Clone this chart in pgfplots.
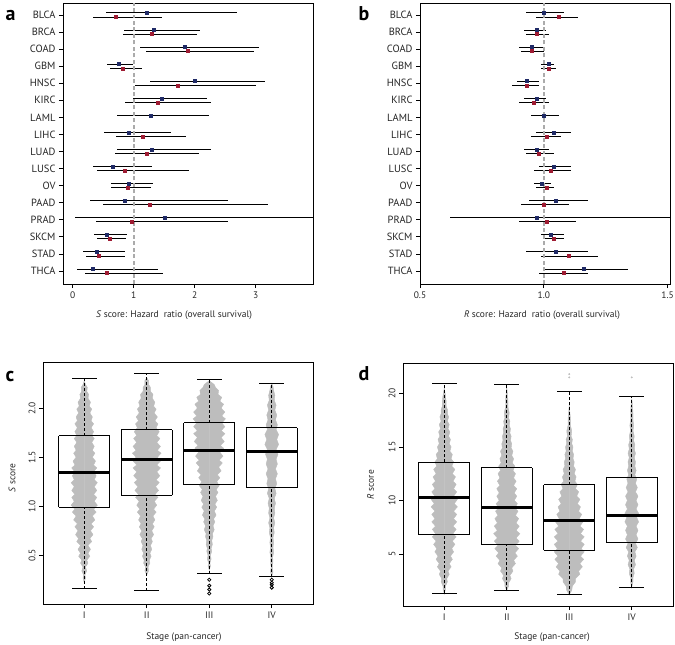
\documentclass[border=0pt]{standalone}
\usepackage{pgfplots}
\pgfplotsset{compat=1.18}
\usepackage{pgfplotstable}
\usepackage{fontspec}
\setmainfont{PT Sans}
\definecolor{navy}{HTML}{1F2A66}
\definecolor{dred}{HTML}{9E1B32}
\definecolor{swarm}{HTML}{BDBDBD}
\definecolor{refgray}{HTML}{ABABAB}

% forest plot data: p = position (BLCA=16 ... THCA=1), v = HR, lo/hi = CI
\pgfplotstableread{
p v lo hi
16 1.22 0.55 2.70
15 1.32 0.84 2.08
14 1.84 1.11 3.06
13 0.75 0.56 0.98
12 2.00 1.27 3.15
11 1.46 0.98 2.20
10 1.28 0.73 2.23
9 0.91 0.52 1.61
8 1.29 0.73 2.27
7 0.66 0.34 1.30
6 0.91 0.63 1.31
5 0.85 0.29 2.54
4 1.51 0.03 4.50
3 0.56 0.35 0.89
2 0.39 0.17 0.85
1 0.32 0.07 1.39
}\aBlue
\pgfplotstableread{
p v lo hi
16 0.70 0.33 1.46
15 1.30 0.82 2.03
14 1.89 1.20 2.97
13 0.82 0.61 1.13
12 1.72 1.02 3.01
11 1.40 0.86 2.27
9 1.14 0.71 1.85
8 1.21 0.69 2.07
7 0.86 0.39 1.90
6 0.90 0.63 1.28
5 1.26 0.50 3.20
4 0.97 0.38 2.54
3 0.60 0.40 0.88
2 0.43 0.22 0.86
1 0.55 0.20 1.48
}\aRed
\pgfplotstableread{
p v lo hi
16 1.00 0.93 1.08
15 0.97 0.92 1.01
14 0.95 0.90 1.00
13 1.02 0.99 1.04
12 0.93 0.89 0.98
11 0.97 0.92 1.01
10 1.00 0.95 1.06
9 1.04 0.97 1.11
8 0.97 0.92 1.02
7 1.04 0.98 1.11
6 0.99 0.96 1.03
5 1.05 0.94 1.18
4 0.97 0.62 1.60
3 1.03 0.99 1.08
2 1.05 0.93 1.18
1 1.16 1.00 1.34
}\bBlue
\pgfplotstableread{
p v lo hi
16 1.06 0.97 1.14
15 0.97 0.93 1.02
14 0.95 0.91 1.00
13 1.02 0.99 1.05
12 0.93 0.87 0.98
11 0.96 0.90 1.02
9 1.01 0.95 1.07
8 0.98 0.93 1.04
7 1.03 0.96 1.11
6 1.01 0.97 1.04
5 1.00 0.91 1.10
4 1.01 0.90 1.13
3 1.04 1.00 1.08
2 1.10 0.99 1.22
1 1.08 0.98 1.18
}\bRed

% box summaries
\pgfplotstableread{
pos q1 med q3 lw uw
1 0.99 1.34 1.72 0.16 2.30
2 1.11 1.48 1.78 0.14 2.35
3 1.22 1.57 1.85 0.31 2.29
4 1.19 1.56 1.80 0.28 2.25
}\cBox
\pgfplotstableread{
pos q1 med q3 lw uw
1 6.78 10.24 13.55 1.32 20.94
2 5.87 9.37 13.05 1.60 20.84
3 5.34 8.09 11.46 1.26 20.22
4 6.06 8.56 12.17 1.91 19.69
}\dBox

% swarm outlines (y, half width) for panel c
\pgfplotstableread{
y w
0.22 0.00
0.27 0.02
0.30 0.01
0.34 0.04
0.38 0.02
0.42 0.06
0.45 0.04
0.49 0.09
0.52 0.06
0.56 0.10
0.60 0.06
0.64 0.12
0.67 0.09
0.71 0.14
0.75 0.10
0.79 0.15
0.82 0.11
0.86 0.17
0.90 0.13
0.94 0.19
0.97 0.15
1.01 0.21
1.05 0.16
1.09 0.20
1.12 0.15
1.16 0.20
1.20 0.16
1.24 0.21
1.27 0.16
1.31 0.19
1.35 0.15
1.39 0.20
1.42 0.15
1.46 0.18
1.50 0.13
1.54 0.17
1.57 0.13
1.61 0.16
1.65 0.12
1.69 0.16
1.72 0.12
1.76 0.15
1.80 0.11
1.84 0.15
1.87 0.11
1.91 0.13
1.95 0.09
1.99 0.12
2.02 0.08
2.06 0.10
2.10 0.06
2.14 0.07
2.17 0.04
2.21 0.05
2.24 0.02
2.28 0.00
}\cI
\pgfplotstableread{
y w
0.30 0.00
0.34 0.03
0.38 0.02
0.42 0.05
0.45 0.04
0.49 0.07
0.52 0.05
0.56 0.08
0.60 0.06
0.64 0.09
0.67 0.07
0.71 0.11
0.75 0.08
0.79 0.12
0.82 0.09
0.86 0.13
0.90 0.10
0.94 0.15
0.97 0.11
1.01 0.16
1.05 0.12
1.09 0.18
1.12 0.13
1.16 0.19
1.20 0.14
1.24 0.20
1.27 0.15
1.31 0.21
1.35 0.16
1.39 0.22
1.42 0.16
1.46 0.22
1.50 0.17
1.54 0.23
1.57 0.17
1.61 0.22
1.65 0.16
1.69 0.21
1.72 0.16
1.76 0.20
1.80 0.15
1.84 0.18
1.87 0.13
1.91 0.17
1.95 0.12
1.99 0.15
2.02 0.11
2.06 0.13
2.10 0.09
2.14 0.10
2.17 0.06
2.21 0.06
2.24 0.03
2.28 0.03
2.31 0.00
}\cII
\pgfplotstableread{
y w
0.35 0.00
0.39 0.02
0.42 0.01
0.46 0.03
0.50 0.02
0.54 0.04
0.57 0.03
0.61 0.05
0.65 0.04
0.69 0.06
0.72 0.05
0.76 0.08
0.80 0.06
0.84 0.09
0.87 0.07
0.91 0.11
0.95 0.08
0.99 0.12
1.02 0.09
1.06 0.13
1.10 0.10
1.14 0.14
1.17 0.11
1.21 0.16
1.25 0.12
1.29 0.17
1.32 0.13
1.36 0.19
1.40 0.15
1.44 0.21
1.47 0.16
1.51 0.22
1.55 0.17
1.59 0.23
1.62 0.18
1.66 0.24
1.70 0.19
1.74 0.25
1.77 0.19
1.81 0.25
1.85 0.20
1.89 0.26
1.92 0.20
1.96 0.25
2.00 0.19
2.04 0.23
2.07 0.17
2.11 0.20
2.14 0.14
2.18 0.15
2.21 0.10
2.24 0.08
2.26 0.04
2.28 0.00
}\cIII
\pgfplotstableread{
y w
0.28 0.00
0.33 0.02
0.38 0.01
0.43 0.02
0.48 0.015
0.53 0.03
0.58 0.02
0.63 0.03
0.68 0.02
0.73 0.04
0.78 0.03
0.83 0.05
0.88 0.03
0.93 0.05
0.98 0.04
1.03 0.06
1.08 0.04
1.13 0.07
1.18 0.05
1.23 0.08
1.28 0.06
1.33 0.09
1.38 0.06
1.43 0.09
1.48 0.07
1.53 0.10
1.58 0.07
1.63 0.11
1.68 0.08
1.73 0.11
1.78 0.07
1.83 0.09
1.88 0.06
1.93 0.08
1.98 0.05
2.03 0.07
2.08 0.04
2.13 0.05
2.18 0.03
2.22 0.02
2.25 0.00
}\cIV
% swarm outlines for panel d
\pgfplotstableread{
y w
1.3 0.00
1.7 0.02
2.0 0.02
2.4 0.05
2.7 0.04
3.1 0.08
3.4 0.06
3.8 0.11
4.1 0.08
4.5 0.13
4.8 0.10
5.2 0.15
5.5 0.12
5.9 0.17
6.2 0.13
6.6 0.19
6.9 0.14
7.3 0.19
7.6 0.14
8.0 0.20
8.3 0.15
8.7 0.20
9.0 0.15
9.4 0.21
9.7 0.16
10.1 0.21
10.4 0.15
10.8 0.20
11.1 0.15
11.5 0.19
11.8 0.14
12.2 0.18
12.5 0.13
12.9 0.17
13.2 0.12
13.6 0.15
13.9 0.11
14.3 0.13
14.6 0.09
15.0 0.11
15.3 0.08
15.7 0.10
16.0 0.07
16.4 0.09
16.7 0.06
17.1 0.08
17.4 0.05
17.8 0.07
18.1 0.05
18.5 0.05
18.8 0.03
19.3 0.03
19.8 0.02
20.5 0.00
}\dI
\pgfplotstableread{
y w
1.6 0.00
2.0 0.03
2.3 0.03
2.7 0.07
3.0 0.05
3.4 0.10
3.7 0.08
4.1 0.14
4.4 0.11
4.8 0.17
5.1 0.13
5.5 0.19
5.8 0.14
6.2 0.20
6.5 0.15
6.9 0.21
7.2 0.15
7.6 0.20
7.9 0.15
8.3 0.19
8.6 0.14
9.0 0.18
9.3 0.13
9.7 0.17
10.0 0.12
10.4 0.16
10.7 0.12
11.1 0.16
11.4 0.11
11.8 0.15
12.1 0.11
12.5 0.14
12.8 0.10
13.2 0.13
13.5 0.09
13.9 0.11
14.2 0.08
14.6 0.10
14.9 0.07
15.3 0.08
15.6 0.06
16.0 0.07
16.3 0.05
16.7 0.06
17.0 0.04
17.4 0.05
17.7 0.03
18.2 0.04
18.7 0.02
19.3 0.02
20.0 0.01
20.6 0.00
}\dII
\pgfplotstableread{
y w
1.2 0.00
1.6 0.04
2.0 0.05
2.4 0.10
2.7 0.10
3.1 0.17
3.4 0.15
3.8 0.21
4.1 0.17
4.5 0.23
4.8 0.18
5.2 0.24
5.5 0.19
5.9 0.24
6.2 0.18
6.6 0.24
6.9 0.18
7.3 0.23
7.6 0.17
8.0 0.22
8.3 0.16
8.7 0.20
9.0 0.15
9.4 0.18
9.7 0.13
10.1 0.17
10.4 0.12
10.8 0.15
11.1 0.10
11.5 0.13
11.8 0.09
12.2 0.11
12.5 0.08
12.9 0.10
13.2 0.07
13.6 0.08
13.9 0.06
14.3 0.07
14.6 0.05
15.0 0.06
15.3 0.04
15.7 0.05
16.0 0.03
16.5 0.04
17.0 0.02
17.6 0.02
18.2 0.01
19.0 0.00
}\dIII
\pgfplotstableread{
y w
1.9 0.00
2.4 0.02
2.8 0.02
3.2 0.04
3.6 0.03
4.0 0.06
4.4 0.04
4.8 0.07
5.2 0.05
5.6 0.09
6.0 0.06
6.4 0.10
6.8 0.07
7.2 0.10
7.6 0.07
8.0 0.11
8.4 0.08
8.8 0.11
9.2 0.07
9.6 0.10
10.0 0.07
10.4 0.10
10.8 0.06
11.2 0.09
11.6 0.06
12.0 0.08
12.4 0.05
12.8 0.07
13.2 0.05
13.6 0.06
14.0 0.04
14.4 0.06
14.8 0.04
15.2 0.05
15.6 0.03
16.0 0.04
16.5 0.02
17.0 0.03
17.5 0.02
18.2 0.02
19.0 0.01
19.5 0.00
}\dIV

\pgfplotsset{
  base/.style={scale only axis, anchor=south west, tick align=outside,
    xtick pos=lower, ytick pos=left, major tick length=4bp,
    axis line style={line width=0.9pt, black},
    every tick/.style={black, line width=0.8pt},
    tick label style={font=\fontsize{9.5}{10}\selectfont, text=black!85},
    label style={font=\fontsize{9.5}{10}\selectfont, text=black!85},
    /pgf/number format/assume math mode=true},
  forest/.style={base, ymin=0.24, ymax=16.7, ytick={1,...,16},
    yticklabel style={font=\fontsize{10.5}{12}\selectfont},
    yticklabels={THCA,STAD,SKCM,PRAD,PAAD,OV,LUSC,LUAD,LIHC,LAML,KIRC,HNSC,GBM,COAD,BRCA,BLCA}},
  fplot/.style={only marks, mark=square*, mark size=1.5bp, #1,
    error bars/.cd, x dir=both, x explicit, error mark=none,
    error bar style={black, line width=0.9pt}},
  rbox/.style={base, xmin=0.34, xmax=4.66, xtick={1,2,3,4}, xticklabels={I,II,III,IV},
    yticklabel style={rotate=90, anchor=south}},
  hseg/.style={only marks, mark=*, mark options={draw opacity=0, fill opacity=0}, forget plot,
    error bars/.cd, x dir=both, x explicit, error mark=none,
    error bar style={black, line width=#1}},
  vseg/.style={only marks, mark=*, mark options={draw opacity=0, fill opacity=0}, forget plot,
    error bars/.cd, y dir=plus, y explicit, error mark=none,
    error bar style={black, line width=#1}},
  dseg/.style={only marks, mark=*, mark options={draw opacity=0, fill opacity=0}, forget plot,
    error bars/.cd, y dir=plus, y explicit, error mark=none,
    error bar style={black, line width=0.9pt, dash pattern=on 3pt off 2pt}},
  half/.style={fill=swarm, draw=swarm, line width=0.4pt, forget plot},
}

\begin{document}
\begin{tikzpicture}
\path[use as bounding box] (0,0) rectangle (675bp,-645bp);

% ---------- panel a ----------
\begin{axis}[forest, at={(63bp,-284bp)}, width=250bp, height=281bp,
  xmin=-0.16, xmax=3.94, xtick={0,1,2,3},
  xlabel={\textit{S} score: Hazard\ \ ratio (overall survival)},
  xlabel style={at={(axis description cs:0.444,-0.11)}, anchor=center}]
\addplot[fplot=navy] table[x=v, y expr=\thisrow{p}+0.12,
  x error plus expr=\thisrow{hi}-\thisrow{v}, x error minus expr=\thisrow{v}-\thisrow{lo}] {\aBlue};
\addplot[fplot=dred] table[x=v, y expr=\thisrow{p}-0.12,
  x error plus expr=\thisrow{hi}-\thisrow{v}, x error minus expr=\thisrow{v}-\thisrow{lo}] {\aRed};
\addplot[refgray, line width=1.8pt, dash pattern=on 4pt off 2.5pt] coordinates {(1,0.24) (1,16.7)};
\end{axis}

% ---------- panel b ----------
\begin{axis}[forest, at={(420bp,-284bp)}, width=250bp, height=281bp,
  xmin=0.5, xmax=1.51, xtick={0.5,1.0,1.5},
  xticklabel style={/pgf/number format/.cd, fixed, fixed zerofill, precision=1},
  xlabel={\textit{R} score: Hazard\ \ ratio (overall survival)},
  xlabel style={at={(axis description cs:0.488,-0.11)}, anchor=center}]
\addplot[fplot=navy] table[x=v, y expr=\thisrow{p}+0.12,
  x error plus expr=\thisrow{hi}-\thisrow{v}, x error minus expr=\thisrow{v}-\thisrow{lo}] {\bBlue};
\addplot[fplot=dred] table[x=v, y expr=\thisrow{p}-0.12,
  x error plus expr=\thisrow{hi}-\thisrow{v}, x error minus expr=\thisrow{v}-\thisrow{lo}] {\bRed};
\addplot[refgray, line width=1.8pt, dash pattern=on 4pt off 2.5pt] coordinates {(1,0.24) (1,16.7)};
\end{axis}

% ---------- panel c ----------
\begin{axis}[rbox, at={(43bp,-604bp)}, width=270bp, height=242bp,
  ymin=0.003, ymax=2.47, ytick={0.5,1,1.5,2},
  yticklabel style={/pgf/number format/.cd, fixed, fixed zerofill, precision=1},
  xlabel={Stage (pan-cancer)},
  xlabel style={at={(axis description cs:0.522,-0.136)}, anchor=center},
  ylabel={\textit{S} score},
  ylabel style={at={(axis description cs:-0.115,0.52)}, anchor=center}]
\addplot[half] table[x expr=1+\thisrow{w}, y=y] {\cI} -- cycle;
\addplot[half] table[x expr=1-\thisrow{w}, y=y] {\cI} -- cycle;
\addplot[half] table[x expr=2+\thisrow{w}, y=y] {\cII} -- cycle;
\addplot[half] table[x expr=2-\thisrow{w}, y=y] {\cII} -- cycle;
\addplot[half] table[x expr=3+\thisrow{w}, y=y] {\cIII} -- cycle;
\addplot[half] table[x expr=3-\thisrow{w}, y=y] {\cIII} -- cycle;
\addplot[half] table[x expr=4+\thisrow{w}, y=y] {\cIV} -- cycle;
\addplot[half] table[x expr=4-\thisrow{w}, y=y] {\cIV} -- cycle;
% whiskers
\addplot[dseg] table[x=pos, y=q3, y error plus expr=\thisrow{uw}-\thisrow{q3}] {\cBox};
\addplot[dseg] table[x=pos, y=lw, y error plus expr=\thisrow{q1}-\thisrow{lw}] {\cBox};
\addplot[hseg=0.9pt] table[x=pos, y=uw, x error expr=0.2] {\cBox};
\addplot[hseg=0.9pt] table[x=pos, y=lw, x error expr=0.2] {\cBox};
% boxes
\addplot[hseg=0.9pt] table[x=pos, y=q1, x error expr=0.405] {\cBox};
\addplot[hseg=0.9pt] table[x=pos, y=q3, x error expr=0.405] {\cBox};
\addplot[vseg=0.9pt] table[x expr=\thisrow{pos}-0.405, y=q1, y error plus expr=\thisrow{q3}-\thisrow{q1}] {\cBox};
\addplot[vseg=0.9pt] table[x expr=\thisrow{pos}+0.405, y=q1, y error plus expr=\thisrow{q3}-\thisrow{q1}] {\cBox};
\addplot[hseg=3pt] table[x=pos, y=med, x error expr=0.4] {\cBox};
% outliers
\addplot[only marks, mark=o, mark size=1.6bp, mark options={line width=0.8pt}, black]
  coordinates {(3,0.25) (3,0.19) (3,0.15) (3,0.11) (4,0.25) (4,0.22) (4,0.20) (4,0.17)};
\end{axis}

% ---------- panel d ----------
\begin{axis}[rbox, at={(403bp,-606bp)}, width=270bp, height=243bp,
  ymin=0.14, ymax=22.84, ytick={5,10,15,20},
  xlabel={Stage (pan-cancer)},
  xlabel style={at={(axis description cs:0.552,-0.128)}, anchor=center},
  ylabel={\textit{R} score},
  ylabel style={at={(axis description cs:-0.12,0.50)}, anchor=center}]
\addplot[half] table[x expr=1+\thisrow{w}, y=y] {\dI} -- cycle;
\addplot[half] table[x expr=1-\thisrow{w}, y=y] {\dI} -- cycle;
\addplot[half] table[x expr=2+\thisrow{w}, y=y] {\dII} -- cycle;
\addplot[half] table[x expr=2-\thisrow{w}, y=y] {\dII} -- cycle;
\addplot[half] table[x expr=3+\thisrow{w}, y=y] {\dIII} -- cycle;
\addplot[half] table[x expr=3-\thisrow{w}, y=y] {\dIII} -- cycle;
\addplot[half] table[x expr=4+\thisrow{w}, y=y] {\dIV} -- cycle;
\addplot[half] table[x expr=4-\thisrow{w}, y=y] {\dIV} -- cycle;
\addplot[only marks, mark=*, mark size=0.8bp, swarm] coordinates {(3,21.5) (3,21.8) (4,21.5)};
% whiskers
\addplot[dseg] table[x=pos, y=q3, y error plus expr=\thisrow{uw}-\thisrow{q3}] {\dBox};
\addplot[dseg] table[x=pos, y=lw, y error plus expr=\thisrow{q1}-\thisrow{lw}] {\dBox};
\addplot[hseg=0.9pt] table[x=pos, y=uw, x error expr=0.2] {\dBox};
\addplot[hseg=0.9pt] table[x=pos, y=lw, x error expr=0.2] {\dBox};
% boxes
\addplot[hseg=0.9pt] table[x=pos, y=q1, x error expr=0.405] {\dBox};
\addplot[hseg=0.9pt] table[x=pos, y=q3, x error expr=0.405] {\dBox};
\addplot[vseg=0.9pt] table[x expr=\thisrow{pos}-0.405, y=q1, y error plus expr=\thisrow{q3}-\thisrow{q1}] {\dBox};
\addplot[vseg=0.9pt] table[x expr=\thisrow{pos}+0.405, y=q1, y error plus expr=\thisrow{q3}-\thisrow{q1}] {\dBox};
\addplot[hseg=3pt] table[x=pos, y=med, x error expr=0.4] {\dBox};
\end{axis}

% panel letters
\node[font=\fontsize{20}{20}\selectfont\bfseries, anchor=base west] at (2bp,-20bp) {a};
\node[font=\fontsize{20}{20}\selectfont\bfseries, anchor=base west] at (355bp,-20bp) {b};
\node[font=\fontsize{20}{20}\selectfont\bfseries, anchor=base west] at (2bp,-381bp) {c};
\node[font=\fontsize{20}{20}\selectfont\bfseries, anchor=base west] at (355bp,-380bp) {d};
\end{tikzpicture}
\end{document}
